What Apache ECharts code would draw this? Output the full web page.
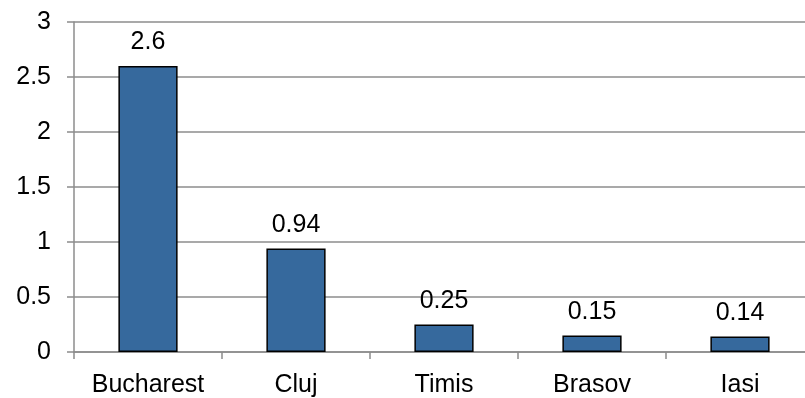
<!DOCTYPE html>
<html>
<head>
<meta charset="utf-8">
<script src="https://cdn.jsdelivr.net/npm/echarts@6/dist/echarts.min.js"></script>
<style>
html,body{margin:0;padding:0;background:#fff;overflow:hidden;width:805px;height:398px;}
#chart{width:820px;height:398px;}
</style>
</head>
<body>
<div id="chart"></div>
<script>
var categories = ['Bucharest', 'Cluj', 'Timis', 'Brasov', 'Iasi'];
var values = [2.6, 0.94, 0.25, 0.15, 0.14];
var yTicks = [0, 0.5, 1, 1.5, 2, 2.5, 3];

var chart = echarts.init(document.getElementById('chart'), null, {renderer: 'canvas'});
var font = 'Liberation Sans';
chart.setOption({
  animation: false,
  backgroundColor: '#ffffff',
  grid: {left: 74, top: 22, width: 740, height: 331, containLabel: false},
  xAxis: {
    type: 'category',
    data: categories,
    boundaryGap: true,
    axisLine: {show: true, lineStyle: {color: '#8c8c8c', width: 1.5}},
    axisTick: {show: true, length: 7, lineStyle: {color: '#8c8c8c', width: 1.5}},
    axisLabel: {interval: 0, margin: 21, fontSize: 25, fontFamily: font, color: '#000'},
    splitLine: {show: false}
  },
  yAxis: {
    type: 'value',
    min: yTicks[0],
    max: yTicks[yTicks.length - 1],
    interval: 0.5,
    axisLine: {show: true, lineStyle: {color: '#8c8c8c', width: 1.5}},
    axisTick: {show: true, length: 7, lineStyle: {color: '#8c8c8c', width: 1.5}},
    axisLabel: {margin: 23, fontSize: 25, fontFamily: font, color: '#000'},
    splitLine: {show: true, lineStyle: {color: '#8c8c8c', width: 1.5}}
  },
  series: [{
    type: 'bar',
    data: values,
    barWidth: '40%',
    itemStyle: {color: '#36699D', borderColor: '#000', borderWidth: 1.5},
    label: {show: true, position: 'top', distance: 11, fontSize: 25, fontFamily: font, color: '#000'}
  }]
});
</script>
</body>
</html>
